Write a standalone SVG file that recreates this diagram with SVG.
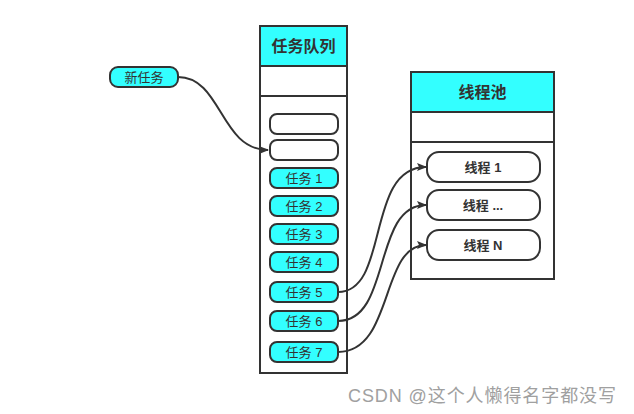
<svg xmlns="http://www.w3.org/2000/svg" width="634" height="414" viewBox="0 0 634 414">
<defs>
<style>
.box{fill:#fff;stroke:#333;stroke-width:2}
.hdr{fill:#33ffff;stroke:#333;stroke-width:2}
.item{fill:#33ffff;stroke:#333;stroke-width:2}
.empty{fill:#fff;stroke:#333;stroke-width:2}
.t{font-family:"Liberation Sans","Noto Sans CJK SC",sans-serif;fill:#333;text-anchor:middle;dominant-baseline:central}
.h{font-size:16px;font-weight:bold}
.s{font-size:13px}
.sb{font-size:13px;font-weight:bold}
.edge{fill:none;stroke:#333;stroke-width:2;marker-end:url(#arr)}
.wm{font-family:"Liberation Sans","Noto Sans CJK SC",sans-serif;font-size:18px;fill:#a0a0a0}
</style>
<marker id="arr" viewBox="0 0 10 10" refX="9" refY="5" markerWidth="5" markerHeight="5" orient="auto" markerUnits="strokeWidth">
<path d="M0,1 L10,5 L0,9 L2,5 Z" fill="#333"/>
</marker>
</defs>
<rect width="634" height="414" fill="#fff"/>
<g id="queue">
<rect class="box" x="260" y="26" width="87" height="347"/>
<rect class="hdr" x="260" y="26" width="87" height="40"/>
<line x1="260" y1="96" x2="347" y2="96" stroke="#333" stroke-width="2"/>
<text class="t h" x="303.5" y="46">任务队列</text>
</g>
<g id="slot-empty-1"><rect class="empty" x="270" y="114" width="68" height="20" rx="7"/></g>
<g id="slot-empty-2"><rect class="empty" x="270" y="140" width="68" height="20" rx="7"/></g>
<g id="task1"><rect class="item" x="270" y="168" width="68" height="20" rx="7"/><text class="t s" x="304" y="178">任务 1</text></g>
<g id="task2"><rect class="item" x="270" y="196" width="68" height="20" rx="7"/><text class="t s" x="304" y="206">任务 2</text></g>
<g id="task3"><rect class="item" x="270" y="224" width="68" height="20" rx="7"/><text class="t s" x="304" y="234">任务 3</text></g>
<g id="task4"><rect class="item" x="270" y="252" width="68" height="20" rx="7"/><text class="t s" x="304" y="262">任务 4</text></g>
<g id="task5"><rect class="item" x="270" y="282" width="68" height="20" rx="7"/><text class="t s" x="304" y="292">任务 5</text></g>
<g id="task6"><rect class="item" x="270" y="311" width="68" height="20" rx="7"/><text class="t s" x="304" y="321">任务 6</text></g>
<g id="task7"><rect class="item" x="270" y="342" width="68" height="20" rx="7"/><text class="t s" x="304" y="352">任务 7</text></g>
<g id="newtask"><rect class="item" x="110" y="67" width="68" height="20" rx="8"/><text class="t s" x="144" y="77">新任务</text></g>
<g id="pool">
<rect class="box" x="411" y="72" width="143" height="207"/>
<rect class="hdr" x="411" y="72" width="143" height="40"/>
<line x1="411" y1="142" x2="554" y2="142" stroke="#333" stroke-width="2"/>
<text class="t h" x="482.5" y="92">线程池</text>
</g>
<g id="thread1"><rect class="empty" x="427" y="152" width="113" height="30" rx="12"/><text class="t sb" x="483" y="167">线程 1</text></g>
<g id="threadm"><rect class="empty" x="427" y="190" width="113" height="30" rx="12"/><text class="t sb" x="483" y="205">线程 ...</text></g>
<g id="threadn"><rect class="empty" x="427" y="230" width="113" height="30" rx="12"/><text class="t sb" x="483" y="245">线程 N</text></g>
<g id="connectors">
<path class="edge" d="M178,77 C222,77 220,150 268,150"/>
<path class="edge" d="M338,292 C390,292 365,167 426,167"/>
<path class="edge" d="M338,321 C392,321 372,205 426,205"/>
<path class="edge" d="M338,352 C394,352 380,245 426,245"/>
</g>
<text class="wm" x="348" y="402" textLength="268" lengthAdjust="spacing">CSDN @这个人懒得名字都没写</text>
</svg>
